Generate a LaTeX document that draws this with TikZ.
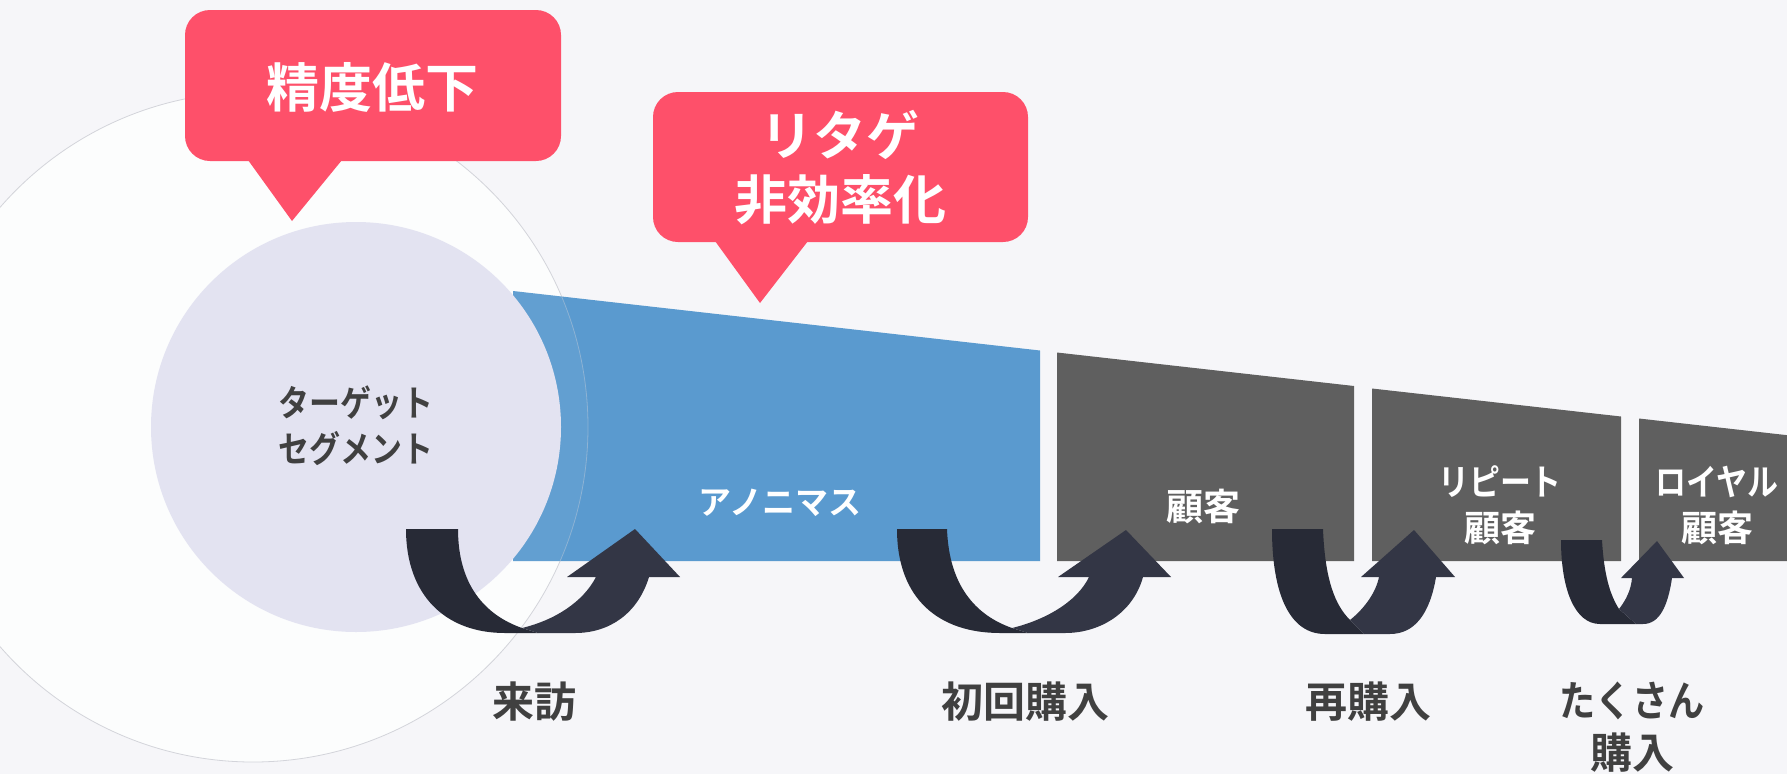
\documentclass[tikz,border=0pt]{standalone}
\usepackage{fontspec}
\newfontfamily\jpb{Noto Sans CJK JP Bold}
\newfontfamily\jpbc{Noto Sans CJK JP Bold}[FakeStretch=0.86]
\definecolor{bgc}{HTML}{F6F6F9}
\definecolor{bigc}{HTML}{FCFDFD}
\definecolor{bigline}{HTML}{D3D4DA}
\definecolor{tgtc}{HTML}{E3E3F1}
\definecolor{bluec}{HTML}{5A9ACF}
\definecolor{grayc}{HTML}{5F5F5F}
\definecolor{pinkc}{HTML}{FE506A}
\definecolor{arrL}{HTML}{272A36}
\definecolor{arrR}{HTML}{333645}
\definecolor{txtc}{HTML}{404040}
\begin{document}
\begin{tikzpicture}[x=1pt,y=-1pt,
  boxlbl/.style={text=white,align=center,inner sep=0pt,font=\jpbc\fontsize{36}{46}\selectfont},
  steplbl/.style={text=txtc,align=center,inner sep=0pt,font=\jpb\fontsize{42}{52}\selectfont},
  calltxt/.style={text=white,align=center,inner sep=0pt,font=\jpb\fontsize{53}{64}\selectfont},
  pinkbox/.style={fill=pinkc,rounded corners=25pt},
  armL/.style={fill=arrL},
  armR/.style={fill=arrR}]
\fill[bgc] (0,0) rectangle (1787,774);
\useasboundingbox (0,0) rectangle (1787,774);
\clip (0,0) rectangle (1787,774);
% outer circle
\fill[bigc,draw=bigline,line width=0.8pt] (253,427) circle[radius=335pt];
% funnel segments
\fill[bluec] (513,291) -- (1040,350.5) -- (1040,561) -- (513,561) -- cycle;
\begin{scope}
  \clip (513,291) -- (1040,350.5) -- (1040,561) -- (513,561) -- cycle;
  \fill[white,opacity=0.05] (253,427) circle[radius=335pt];
  \draw[bigline,opacity=0.4,line width=0.8pt] (253,427) circle[radius=335pt];
\end{scope}
% target circle
\fill[tgtc] (356,427) circle[radius=205pt];
\fill[grayc] (1057,352.5) -- (1354,386) -- (1354,561) -- (1057,561) -- cycle;
\fill[grayc] (1372,388.5) -- (1621,416.5) -- (1621,561) -- (1372,561) -- cycle;
\fill[grayc] (1639,418.5) -- (1790,435.5) -- (1790,561) -- (1639,561) -- cycle;
% labels in segments
\node[boxlbl,text=txtc] (tgt) at (356,426) {ターゲット\\セグメント};
\node[boxlbl,font=\jpb\fontsize{33}{40}\selectfont] (anon) at (780,503) {アノニマス};
\node[boxlbl,font=\jpb\fontsize{37}{46}\selectfont] (cust) at (1203,506) {顧客};
\node[boxlbl] (rep) at (1500,505) {リピート\\\jpb 顧客};
\node[boxlbl] (loy) at (1717,505) {ロイヤル\\\jpb 顧客};
% arrow 1
\fill[armL] (406,529) -- (458,529) .. controls (458,585) and (485,615) .. (522,628) -- (538,633) -- (505,633) .. controls (445,633) and (406,595) .. (406,529) -- cycle;
\fill[armR] (522,628) .. controls (555,620) and (583,602) .. (596,577) -- (567,577) -- (635,529) -- (680,577) -- (649,577) .. controls (638,613) and (610,633) .. (575,633) -- (538,633) -- cycle;
% arrow 2
\fill[armL] (897,529) -- (947,529) .. controls (949,585) and (975,615) .. (1012,628) -- (1028,633) -- (1000,633) .. controls (940,633) and (897,600) .. (897,529) -- cycle;
\fill[armR] (1012,628) .. controls (1045,620) and (1077,602) .. (1089,577) -- (1058,577) -- (1126,530) -- (1171,577) -- (1143,577) .. controls (1133,613) and (1100,633) .. (1065,633) -- (1028,633) -- cycle;
% arrow 3
\fill[armL] (1272,529) -- (1323,529) .. controls (1325,580) and (1335,605) .. (1350,620) -- (1364,634) -- (1325,634) .. controls (1290,634) and (1272,595) .. (1272,529) -- cycle;
\fill[armR] (1350,620) .. controls (1365,608) and (1376,592) .. (1379,577) -- (1361,577) -- (1414,530) -- (1455,577) -- (1436,577) .. controls (1430,613) and (1415,634) .. (1390,634) -- (1364,634) -- cycle;
% arrow 4
\fill[armL] (1561,540) -- (1602,540) .. controls (1604,575) and (1610,595) .. (1619,609) -- (1636,624) -- (1600,624) .. controls (1575,624) and (1561,590) .. (1561,540) -- cycle;
\fill[armR] (1619,609) .. controls (1626,600) and (1631,590) .. (1632,578) -- (1621,578) -- (1657,541) -- (1684,578) -- (1672,578) .. controls (1668,605) and (1660,624) .. (1643,624) -- (1636,624) -- cycle;
% step labels
\node[steplbl] (visit) at (534,702) {来訪};
\node[steplbl] (first) at (1025,702) {初回購入};
\node[steplbl] (again) at (1368,702) {再購入};
\node[steplbl] (many) at (1632,727) {{\jpbc たくさん}\\購入};
% callouts
\fill[pinkbox] (185,10) rectangle (561,161);
\fill[pinkc] (248,160) -- (292,221) -- (342,160) -- cycle;
\node[calltxt] (c1) at (372,87) {精度低下};
\fill[pinkbox] (653,92) rectangle (1028,242);
\fill[pinkc] (715,241) -- (760,303) -- (808,241) -- cycle;
\node[calltxt] (c2) at (840,168) {リタゲ\\非効率化};
\end{tikzpicture}
\end{document}
